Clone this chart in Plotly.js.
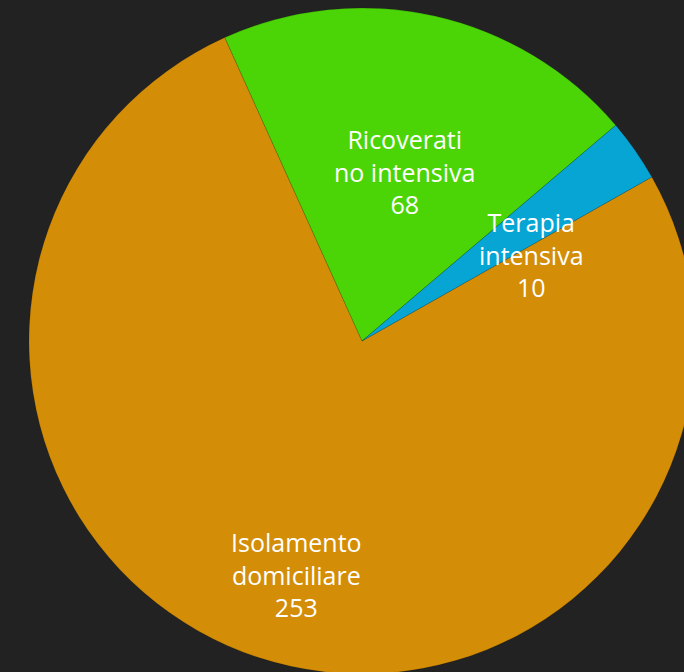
<!DOCTYPE html>
<html>
<head>
<meta charset="utf-8">
<script src="https://cdn.plot.ly/plotly-3.0.1.min.js"></script>
<style>
  html, body { margin: 0; padding: 0; background: #222222; overflow: hidden; width: 684px; height: 672px; }
  #chart { width: 724px; height: 674px; }
</style>
</head>
<body>
<div id="chart"></div>
<script>
const labels = ["Isolamento domiciliare", "Ricoverati no intensiva", "Terapia intensiva"];
const labelLines = [["Isolamento", "domiciliare"], ["Ricoverati", "no intensiva"], ["Terapia", "intensiva"]];
const values = [253, 68, 10];
const colors = ["#D38D06", "#4BD506", "#07A5D4"];

// label placement style (fraction of radius, angular nudge in degrees)
const labelRadius = [0.727, 0.526, 0.572];
const labelNudge = [-2.5, 1.5, 8];
const startAngle = 60.5;

const total = values.reduce((a, b) => a + b, 0);
const annotations = [];
let cum = 0;
values.forEach((v, i) => {
  const mid = startAngle + 360 * (cum + v / 2) / total + labelNudge[i];
  cum += v;
  const th = mid * Math.PI / 180;
  const R = 0.5 * labelRadius[i];
  annotations.push({
    xref: "paper", yref: "paper",
    x: 0.5 + R * Math.sin(th),
    y: 0.5 + R * Math.cos(th),
    xanchor: "center", yanchor: "middle",
    showarrow: false,
    align: "center",
    text: labelLines[i].join("<br>") + "<br>" + v,
    font: { family: "Open Sans, Noto Sans, sans-serif", size: 25, color: "#ffffff" }
  });
});

const trace = {
  type: "pie",
  labels: labels,
  values: values,
  sort: false,
  direction: "clockwise",
  rotation: startAngle,
  marker: { colors: colors, line: { color: "rgba(0,0,0,0.12)", width: 1 } },
  textinfo: "none",
  hoverinfo: "label+value",
  showlegend: false
};

const layout = {
  width: 724,
  height: 674,
  margin: { l: 29, r: 29, t: 8, b: 0 },
  paper_bgcolor: "#222222",
  plot_bgcolor: "#222222",
  showlegend: false,
  annotations: annotations
};

Plotly.newPlot("chart", [trace], layout, { displayModeBar: false, staticPlot: true });
</script>
</body>
</html>
